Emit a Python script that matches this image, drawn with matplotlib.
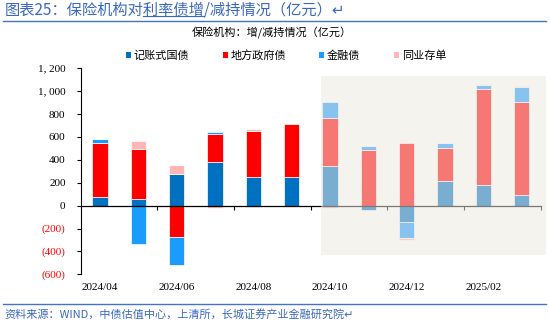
import numpy as np
import matplotlib
matplotlib.use('Agg')
import matplotlib.pyplot as plt
from matplotlib.patches import Rectangle, Patch
from matplotlib.lines import Line2D

plt.rcParams['font.family'] = ['Noto Sans CJK SC', 'DejaVu Sans']
plt.rcParams['figure.dpi'] = 100

months = ['2024/04', '2024/05', '2024/06', '2024/07', '2024/08', '2024/09',
          '2024/10', '2024/11', '2024/12', '2025/01', '2025/02', '2025/03']
guozhai = [79, 61, 274, 379, 248, 248, 344, -41, -143, 219, 184, 93]
difang = [469, 435, -275, 248, 403, 464, 423, 484, 551, 283, 837, 812]
jinrong = [30, -333, -242, 15, -10, -5, 141, 41, -140, 44, 35, 129]
tongye = [3, 65, 79, -20, 20, -5, -20, 0, -20, 0, 6, 11]

series = [('记账式国债', guozhai, '#0070c0'),
          ('地方政府债', difang, '#ff0000'),
          ('金融债', jinrong, '#1a9cff'),
          ('同业存单', tongye, '#ffb6b6')]

blue = '#3a68bd'
num_font = ['Liberation Serif', 'Noto Sans CJK SC']

fig = plt.figure(figsize=(5.5, 3.22))
ax = fig.add_axes([0.147, 0.148, 0.836, 0.64])

x = np.arange(len(months))
pos = np.zeros(len(months))
neg = np.zeros(len(months))
for name, vals, col in series:
    v = np.array(vals, dtype=float)
    bottom = np.where(v >= 0, pos, neg)
    ax.bar(x, v, 0.4, bottom=bottom, color=col, edgecolor='white',
           linewidth=0.5, zorder=1, label=name)
    pos += np.where(v >= 0, v, 0)
    neg += np.where(v < 0, v, 0)

ax.set_xlim(-0.5, 11.5)
ax.set_ylim(-600, 1200)
ax.set_yticks(np.arange(-600, 1201, 200))
ylabels = []
for t in ax.get_yticks():
    t = int(t)
    ylabels.append(f'({-t})' if t < 0 else f'{t:,}'.replace(',', ', '))
ax.set_yticklabels(ylabels, family=num_font, fontsize=8)
for lab, t in zip(ax.get_yticklabels(), ax.get_yticks()):
    if t < 0:
        lab.set_color('#ff0000')
ax.tick_params(axis='y', length=3, width=0.8, pad=8)

for s in ['top', 'right']:
    ax.spines[s].set_visible(False)
ax.spines['left'].set_linewidth(0.8)
ax.spines['bottom'].set_position(('data', 0))
ax.spines['bottom'].set_linewidth(0.9)
ax.spines['bottom'].set_zorder(2.5)
ax.set_xticks(np.arange(1.5, 12, 2))
ax.tick_params(axis='x', length=3, width=0.8, labelbottom=False)

# x labels along the bottom edge, every second month
sec = ax.secondary_xaxis(0.0)
sec.spines['bottom'].set_visible(False)
sec.set_xticks(x[::2])
sec.set_xticklabels(months[::2], family=num_font, fontsize=8)
sec.tick_params(length=0, pad=6)

# shaded region over the later months
ax.add_patch(Rectangle((5.78, -435), 5.85, 1568, facecolor=(236/255, 232/255, 223/255),
                       alpha=0.52, edgecolor='none', zorder=3, clip_on=False))

handles = [Patch(facecolor=c, edgecolor='none') for _, _, c in series]
ax.legend(handles, [n for n, _, _ in series], ncol=4, loc='center',
          bbox_to_anchor=(0.446, 1.06), frameon=False, fontsize=8,
          handlelength=0.45, handleheight=0.45, handletextpad=0.25,
          columnspacing=3.0, borderaxespad=0)

fig.text(0.495, 0.896, '保险机构：增/减持情况（亿元）', ha='center', va='center', fontsize=8)

fig.text(0.008, 0.969, '图表25：保险机构对利率债增/减持情况（亿元）↵',
         ha='left', va='center', fontsize=11, color=blue, style='italic')
fig.add_artist(Line2D([0.005, 0.992], [0.935, 0.935], color='#4472c4', lw=1.0))

# underline under 利率债增
fig.canvas.draw()
r = fig.canvas.get_renderer()
pre = fig.text(0.008, 0.969, '图表25：保险机构对', fontsize=11, va='center')
pre2 = fig.text(0.008, 0.969, '图表25：保险机构对利率债增', fontsize=11, va='center')
x0 = pre.get_window_extent(r).x1 / fig.bbox.width
x1 = pre2.get_window_extent(r).x1 / fig.bbox.width
pre.remove()
pre2.remove()
fig.add_artist(Line2D([x0, x1], [0.949, 0.949], color=blue, lw=0.8))

fig.add_artist(Line2D([0.005, 0.992], [0.056, 0.056], color='#4472c4', lw=1.0))
fig.text(0.008, 0.025, '资料来源：WIND，中债估值中心，上清所，长城证券产业金融研究院↵',
         ha='left', va='center', fontsize=8, color=blue, style='italic')

fig.savefig('out.png', dpi=100)
